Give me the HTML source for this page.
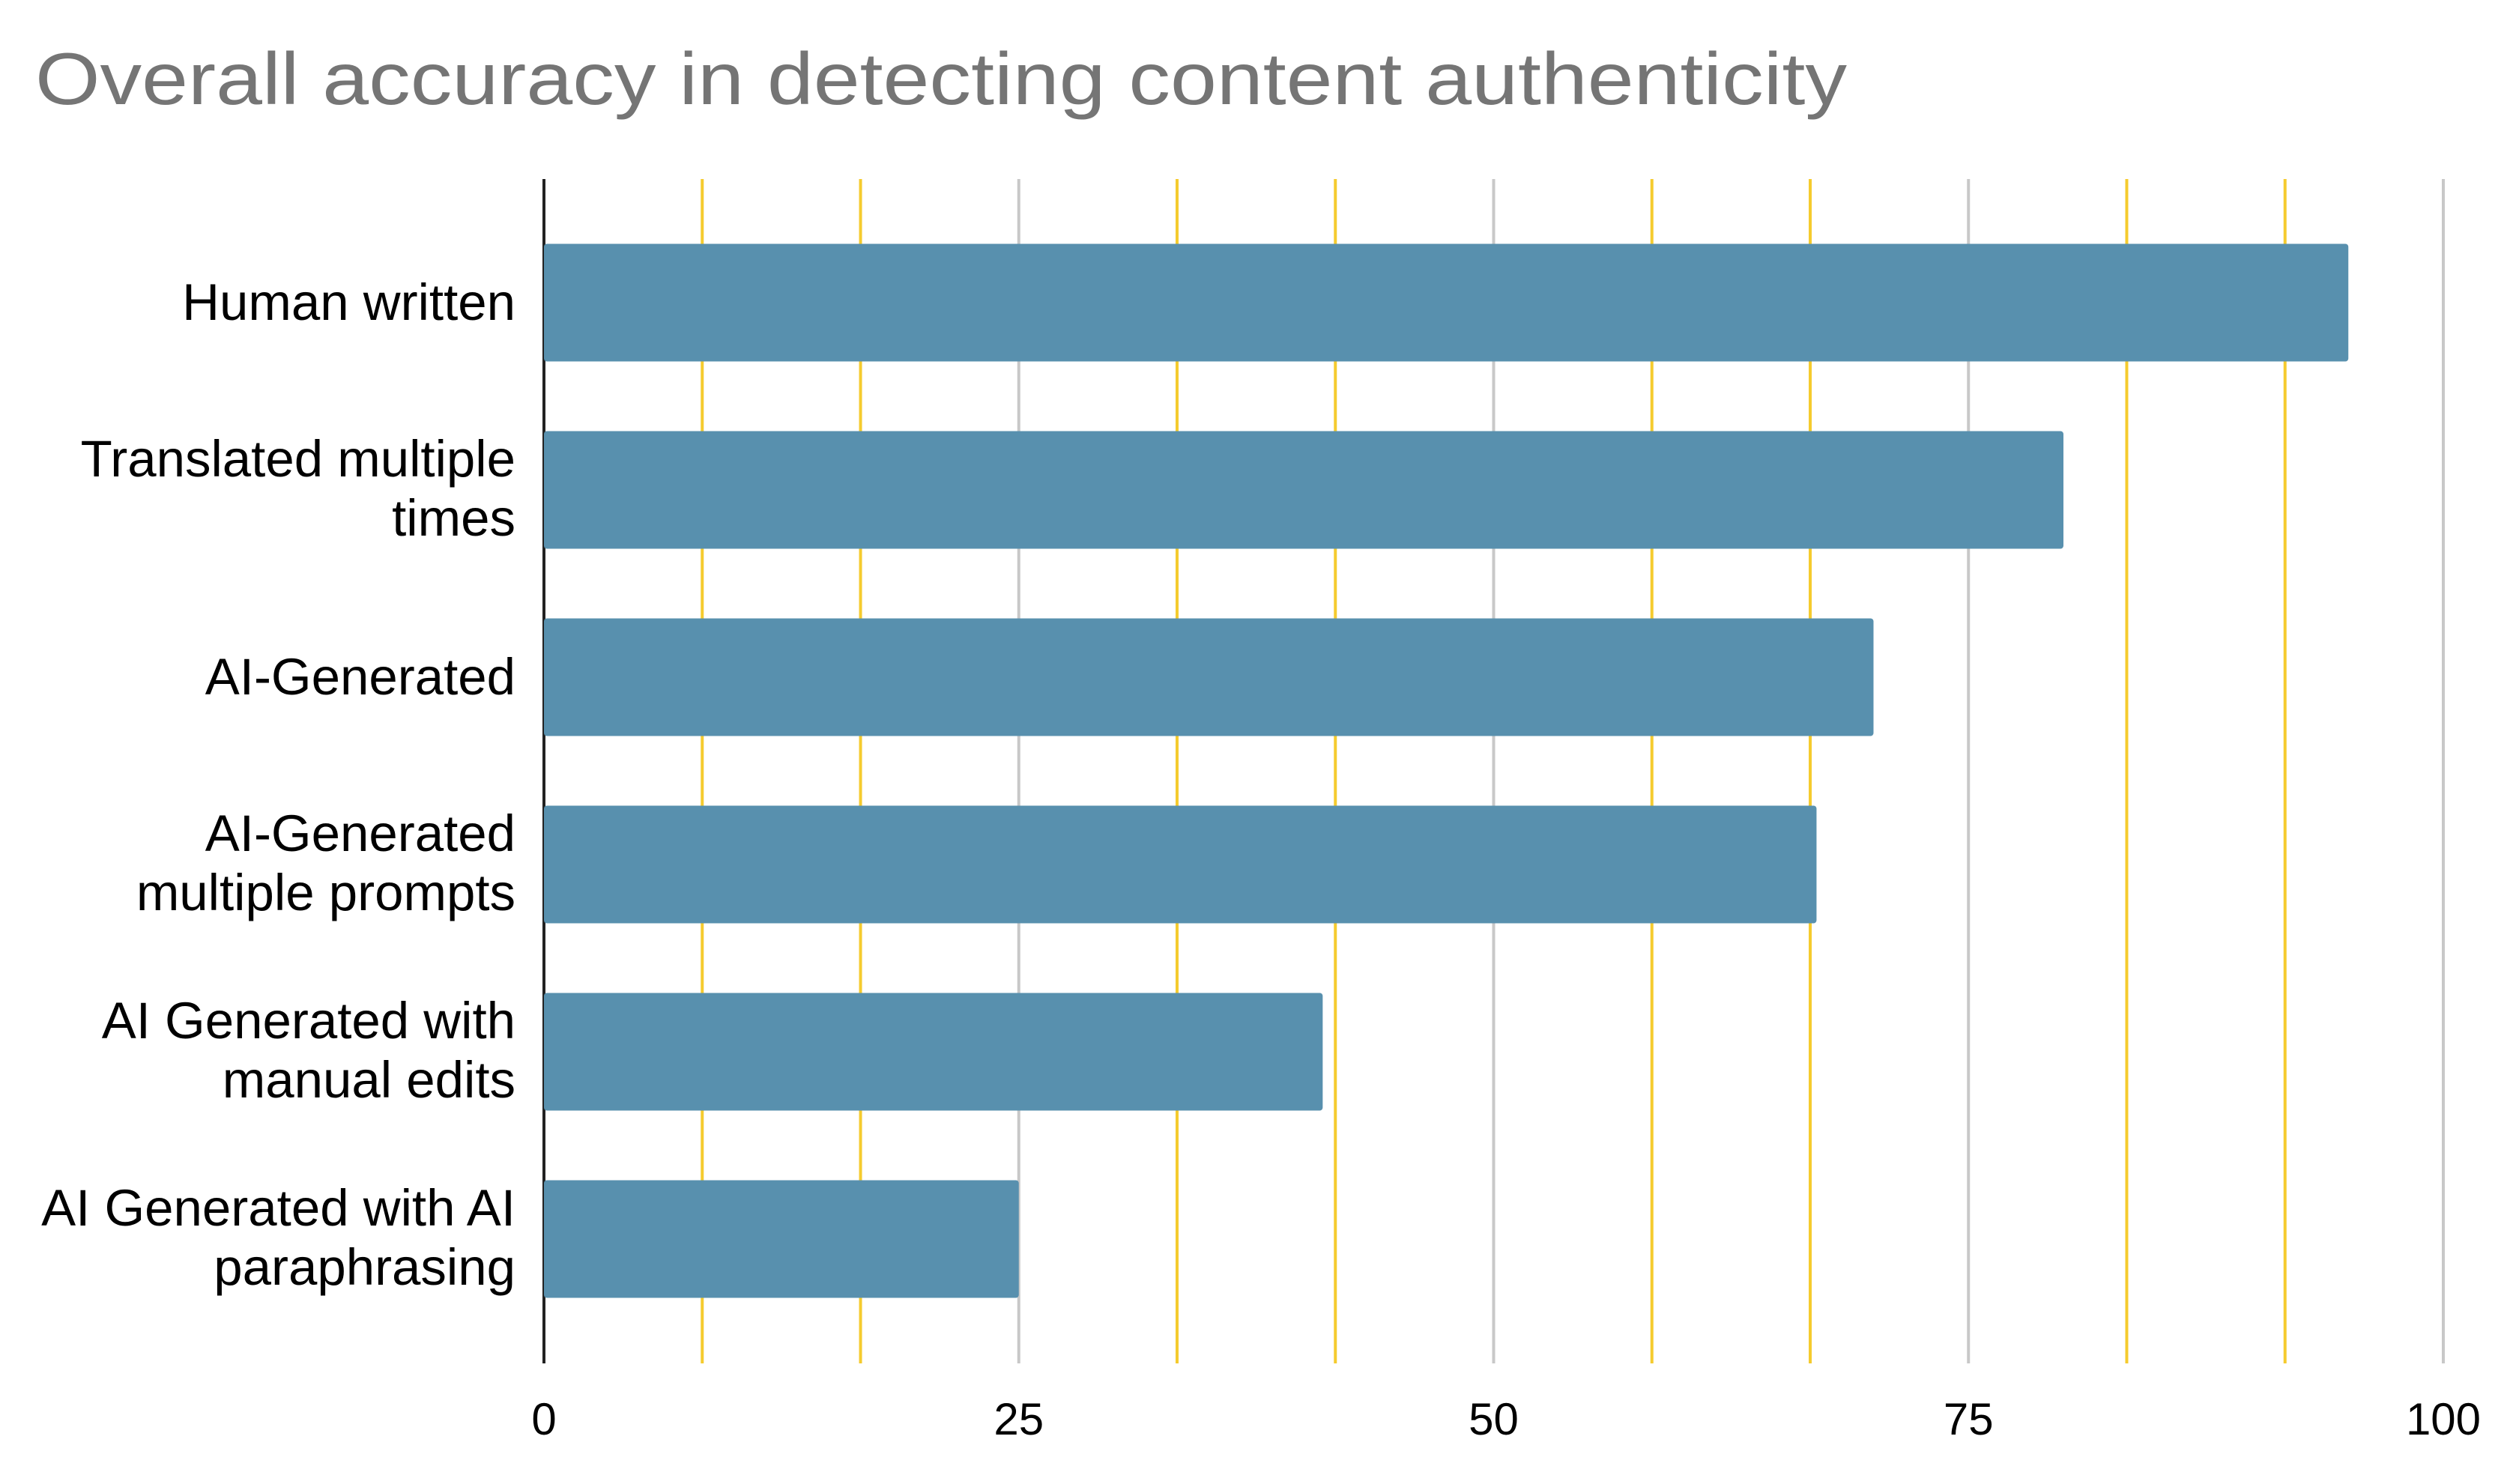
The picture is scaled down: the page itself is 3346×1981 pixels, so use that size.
<!DOCTYPE html>
<html><head><meta charset="utf-8"><style>
html,body{margin:0;padding:0;background:#fff;}
svg{display:block;font-family:"Liberation Sans",Arial,sans-serif;}
</style></head><body>
<svg id="chart" width="3346" height="1981" viewBox="0 0 3346 1981" xmlns="http://www.w3.org/2000/svg">
<rect width="3346" height="1981" fill="#fff"/>
<text x="47" y="139" font-size="98" fill="#757575" textLength="2418" lengthAdjust="spacingAndGlyphs">Overall accuracy in detecting content authenticity</text>
<g id="grid"></g>
<g id="bars"></g>
<g id="labels"></g>
<g id="ticks"></g>
</svg>
<script>
const categories = [["Human written"],["Translated multiple","times"],["AI-Generated"],["AI-Generated","multiple prompts"],["AI Generated with","manual edits"],["AI Generated with AI","paraphrasing"]];
const values = [95, 80, 70, 67, 41, 25];
const tickValues = [0, 25, 50, 75, 100];
const tickLabels = ["0", "25", "50", "75", "100"];
const minorGridValues = [8.333, 16.667, 33.333, 41.667, 58.333, 66.667, 83.333, 91.667];

const NS = "http://www.w3.org/2000/svg";
const X0 = 726, X1 = 3261, TOP = 239, BOT = 1820;
const x = v => X0 + (v / 100) * (X1 - X0);
const yCenter = i => TOP + 165 + i * 250;
const BH = 157;
function mk(tag, attrs, parent){const e=document.createElementNS(NS,tag);for(const k in attrs)e.setAttribute(k,attrs[k]);document.getElementById(parent).appendChild(e);return e;}

minorGridValues.forEach(v=>{
  const l = mk("line",{x1:x(v),x2:x(v),y1:TOP,y2:BOT,stroke:"#f5cb2e","stroke-width":4},"grid");
  
  
});
tickValues.forEach((v,i)=>{
  if(v>0){
    const l = mk("line",{x1:x(v),x2:x(v),y1:TOP,y2:BOT,stroke:"#c8c8c8","stroke-width":4},"grid");
    
    
  }
  const t = mk("text",{x:x(v),y:1915,"font-size":60,"text-anchor":"middle",fill:"#000"},"ticks");
  t.textContent = tickLabels[i];
  
  
});
const ax = mk("line",{x1:X0,x2:X0,y1:TOP,y2:BOT,stroke:"#222","stroke-width":4},"grid");



values.forEach((v,i)=>{
  const c = yCenter(i);
  const r = mk("rect",{x:X0,y:c-BH/2,width:x(v)-X0,height:BH,rx:4,fill:"#5890ae"},"bars");
  
  
  const lines = categories[i];
  const t = mk("text",{"font-size":69,"text-anchor":"end",fill:"#000"},"labels");
  
  
  const base = lines.length===1 ? c+23 : c-18;
  lines.forEach((s,j)=>{
    const ts = document.createElementNS(NS,"tspan");
    ts.setAttribute("x",688);
    ts.setAttribute("y",base+j*79);
    ts.textContent = s;
    t.appendChild(ts);
  });
});
</script>
</body></html>
